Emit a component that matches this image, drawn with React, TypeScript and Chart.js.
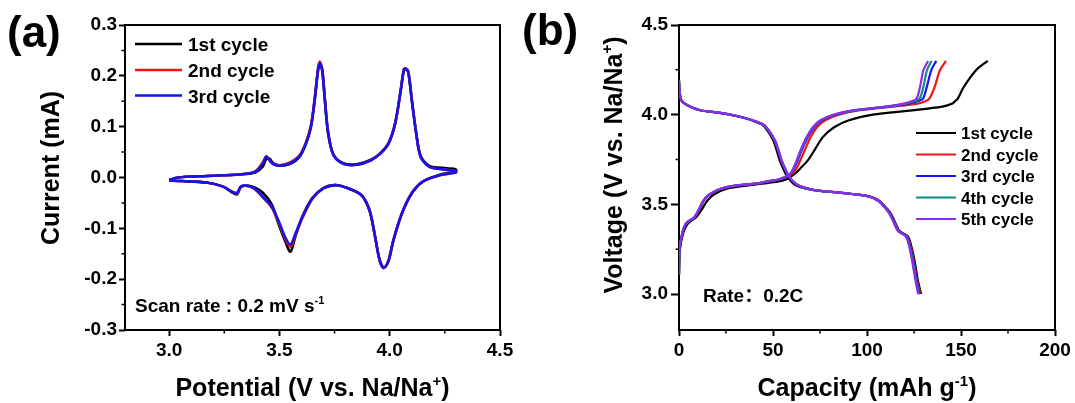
import React, { useEffect, useRef } from 'react';
import { Chart, registerables } from 'chart.js';

Chart.register(...registerables);

const FONT = "'Liberation Sans', Arial, Helvetica, sans-serif";
const CJK_FONT = "'Liberation Sans', Arial, 'Noto Sans CJK SC', sans-serif";

// ---------------- Panel (a): cyclic voltammetry ----------------
const cvLabels = ['1st cycle', '2nd cycle', '3rd cycle'];
const cvColors = ['#000000', '#f01414', '#1414ee'];

const cvAnodicV = [3.00, 3.04, 3.17, 3.32, 3.39, 3.425, 3.44, 3.455, 3.47, 3.50, 3.55, 3.59, 3.62, 3.643, 3.66, 3.675, 3.683, 3.694, 3.706, 3.721, 3.745, 3.79, 3.85, 3.915, 3.96, 3.995, 4.025, 4.05, 4.064, 4.072, 4.084, 4.10, 4.12, 4.14, 4.18, 4.26, 4.30];
const cv1AnodicI = [-0.005, 0.0, 0.003, 0.006, 0.010, 0.022, 0.036, 0.037, 0.029, 0.024, 0.027, 0.040, 0.066, 0.10, 0.152, 0.21, 0.223, 0.21, 0.152, 0.087, 0.045, 0.028, 0.026, 0.035, 0.049, 0.068, 0.107, 0.171, 0.21, 0.213, 0.207, 0.153, 0.088, 0.043, 0.023, 0.018, 0.016];
const cv2AnodicI = [-0.005, 0.0, 0.003, 0.006, 0.012, 0.030, 0.042, 0.034, 0.027, 0.024, 0.030, 0.043, 0.069, 0.103, 0.156, 0.215, 0.228, 0.214, 0.155, 0.088, 0.045, 0.027, 0.025, 0.034, 0.048, 0.067, 0.107, 0.172, 0.213, 0.215, 0.209, 0.154, 0.087, 0.041, 0.021, 0.015, 0.013];
const cv3AnodicI = [-0.005, 0.0, 0.003, 0.006, 0.011, 0.028, 0.041, 0.034, 0.027, 0.023, 0.028, 0.041, 0.067, 0.10, 0.153, 0.212, 0.225, 0.212, 0.153, 0.087, 0.044, 0.027, 0.025, 0.034, 0.048, 0.067, 0.107, 0.172, 0.212, 0.214, 0.208, 0.153, 0.087, 0.041, 0.021, 0.015, 0.013];

const cvCathodicV = [4.30, 4.23, 4.15, 4.10, 4.056, 4.017, 3.994, 3.973, 3.954, 3.931, 3.908, 3.87, 3.79, 3.75, 3.70, 3.65, 3.605, 3.573, 3.55, 3.526, 3.495, 3.465, 3.425, 3.385, 3.35, 3.325, 3.308, 3.285, 3.245, 3.17, 3.06, 3.00];
const cv1CathodicI = [0.012, 0.006, -0.008, -0.031, -0.07, -0.123, -0.164, -0.178, -0.162, -0.11, -0.064, -0.034, -0.018, -0.015, -0.021, -0.040, -0.076, -0.115, -0.146, -0.125, -0.09, -0.053, -0.030, -0.019, -0.016, -0.019, -0.033, -0.029, -0.018, -0.010, -0.007, -0.006];
const cv2CathodicI = [0.010, 0.005, -0.008, -0.031, -0.07, -0.123, -0.165, -0.178, -0.162, -0.11, -0.064, -0.034, -0.018, -0.015, -0.021, -0.042, -0.079, -0.113, -0.136, -0.12, -0.087, -0.059, -0.039, -0.022, -0.016, -0.018, -0.031, -0.028, -0.018, -0.010, -0.007, -0.006];
const cv3CathodicI = [0.010, 0.005, -0.008, -0.031, -0.07, -0.123, -0.165, -0.178, -0.162, -0.11, -0.064, -0.034, -0.018, -0.015, -0.021, -0.041, -0.077, -0.11, -0.132, -0.117, -0.084, -0.057, -0.038, -0.021, -0.016, -0.018, -0.030, -0.028, -0.018, -0.010, -0.007, -0.006];

const cvXTicks = [3.0, 3.5, 4.0, 4.5];
const cvXMinorTicks = [3.25, 3.75, 4.25];
const cvYTicks = [-0.3, -0.2, -0.1, 0.0, 0.1, 0.2, 0.3];
const cvYMinorTicks = [-0.25, -0.15, -0.05, 0.05, 0.15, 0.25];

// ---------------- Panel (b): charge / discharge ----------------
const gcdLabels = ['1st cycle', '2nd cycle', '3rd cycle', '4th cycle', '5th cycle'];
const gcdColors = ['#000000', '#f01414', '#1414ee', '#108a84', '#8a2cf0'];

const chargeV = [3.11, 3.25, 3.35, 3.39, 3.41, 3.427, 3.47, 3.52, 3.555, 3.586, 3.605, 3.614, 3.628, 3.642, 3.67, 3.70, 3.745, 3.81, 3.875, 3.93, 3.968, 4.0, 4.024, 4.045, 4.062, 4.075, 4.09, 4.155, 4.248, 4.30];
const charge1Cap = [0, 0.5, 2.5, 4.5, 6.5, 9.0, 12.0, 15.0, 18.5, 25.0, 36.0, 43.0, 53.0, 57.5, 61.5, 64.5, 68.5, 72.5, 76.5, 82.5, 90.0, 103.0, 124.0, 140.0, 145.5, 146.8, 148.3, 151.5, 158.0, 164.2];
const charge2Cap = [0, 0.3, 2.0, 3.6, 5.7, 8.3, 10.8, 13.2, 16.4, 22.2, 30.5, 40.0, 47.5, 54.3, 60.2, 62.5, 64.5, 67.2, 70.0, 73.4, 77.5, 85.0, 95.5, 113.5, 127.0, 131.0, 133.2, 136.0, 138.8, 142.0];
const charge3Cap = [0, 0.3, 2.0, 3.5, 5.5, 8.0, 10.5, 12.9, 16.0, 21.8, 30.0, 39.5, 47.0, 53.8, 59.3, 61.2, 63.1, 65.6, 68.5, 71.9, 75.8, 83.0, 93.5, 111.5, 122.0, 127.0, 129.8, 131.8, 134.2, 136.8];
const charge4Cap = [0, 0.3, 2.0, 3.5, 5.5, 8.0, 10.5, 12.9, 16.0, 21.8, 30.0, 39.5, 47.0, 53.7, 59.0, 60.9, 62.8, 65.2, 68.1, 71.4, 75.3, 82.4, 92.9, 110.5, 120.5, 125.2, 128.0, 130.0, 131.9, 134.3];
const charge5Cap = [0, 0.3, 2.0, 3.5, 5.5, 8.0, 10.5, 12.9, 16.0, 21.8, 30.0, 39.5, 47.0, 53.7, 59.0, 60.8, 62.6, 65.0, 67.9, 71.2, 75.0, 82.0, 92.7, 110.0, 119.5, 123.8, 126.4, 128.2, 130.0, 132.5];

const dischargeV = [4.19, 4.13, 4.08, 4.05, 4.025, 4.01, 3.99, 3.975, 3.96, 3.941, 3.90, 3.856, 3.80, 3.745, 3.70, 3.652, 3.615, 3.595, 3.58, 3.567, 3.558, 3.549, 3.535, 3.515, 3.49, 3.45, 3.39, 3.355, 3.341, 3.326, 3.30, 3.25, 3.186, 3.075, 3.0];
const discharge1Cap = [0, 0.3, 1.3, 5.0, 11.2, 21.6, 31.5, 37.0, 40.8, 44.8, 47.8, 50.2, 52.0, 53.6, 55.4, 57.8, 61.0, 65.0, 71.5, 83.5, 92.0, 99.0, 103.8, 107.0, 109.4, 112.6, 115.4, 117.0, 118.8, 121.3, 122.7, 124.0, 125.3, 127.1, 128.8];
const discharge2Cap = [0, 0.3, 1.3, 5.0, 11.3, 21.8, 31.7, 37.2, 41.2, 45.2, 48.3, 50.8, 52.7, 54.3, 56.2, 58.7, 62.2, 66.2, 72.2, 84.2, 92.4, 99.4, 103.9, 107.0, 109.3, 112.4, 115.2, 116.8, 118.5, 121.0, 122.3, 123.6, 124.9, 126.7, 128.4];
const discharge3Cap = [0, 0.3, 1.3, 5.0, 11.3, 21.8, 31.8, 37.3, 41.3, 45.3, 48.4, 50.9, 52.8, 54.4, 56.2, 58.6, 62.0, 66.0, 72.0, 84.0, 92.2, 99.2, 103.7, 106.8, 109.1, 112.2, 115.0, 116.6, 118.2, 120.8, 122.1, 123.3, 124.6, 126.4, 128.0];
const discharge4Cap = [0, 0.3, 1.3, 5.0, 11.4, 22.0, 32.0, 37.5, 41.5, 45.5, 48.6, 51.1, 53.0, 54.6, 56.4, 58.8, 62.2, 66.1, 72.0, 83.9, 92.0, 99.0, 103.5, 106.6, 108.9, 112.0, 114.8, 116.4, 118.0, 120.5, 121.8, 123.0, 124.3, 126.1, 127.6];
const discharge5Cap = [0, 0.3, 1.3, 5.0, 11.4, 22.0, 32.0, 37.5, 41.5, 45.5, 48.6, 51.1, 53.0, 54.6, 56.4, 58.8, 62.2, 66.1, 72.0, 83.9, 92.0, 99.0, 103.5, 106.5, 108.8, 111.8, 114.6, 116.2, 117.8, 120.3, 121.6, 122.8, 124.0, 125.8, 127.2];

const gcdXTicks = [0, 50, 100, 150, 200];
const gcdXMinorTicks = [25, 75, 125, 175];
const gcdYTicks = [3.0, 3.5, 4.0, 4.5];
const gcdYMinorTicks = [3.25, 3.75, 4.25];

// ---------------- helpers ----------------
type Seg = { t: string; sup?: boolean };

function drawRich(
  ctx: CanvasRenderingContext2D,
  segs: Seg[],
  x: number,
  y: number,
  size: number,
  align: 'left' | 'center',
  rotate = false,
  family = FONT
) {
  ctx.save();
  ctx.translate(x, y);
  if (rotate) ctx.rotate(-Math.PI / 2);
  const supSize = Math.round(size * 0.6);
  const fontFor = (s: Seg) => `bold ${s.sup ? supSize : size}px ${family}`;
  let total = 0;
  const widths = segs.map((s) => {
    ctx.font = fontFor(s);
    const w = ctx.measureText(s.t).width;
    total += w;
    return w;
  });
  let cx = align === 'center' ? -total / 2 : 0;
  ctx.fillStyle = '#000';
  ctx.textAlign = 'left';
  ctx.textBaseline = 'alphabetic';
  segs.forEach((s, i) => {
    ctx.font = fontFor(s);
    ctx.fillText(s.t, cx, s.sup ? -size * 0.4 : 0);
    cx += widths[i];
  });
  ctx.restore();
}

function pts(xs: number[], ys: number[]) {
  return xs.map((x, i) => ({ x, y: ys[i] }));
}

function framePlugin(xMinor: number[], yMinor: number[]) {
  return {
    id: 'frameMinor',
    beforeDatasetsDraw(chart: any) {
      const { ctx, chartArea: a, scales } = chart;
      ctx.save();
      ctx.strokeStyle = '#000';
      ctx.lineWidth = 2;
      ctx.strokeRect(a.left, a.top, a.right - a.left, a.bottom - a.top);
      ctx.lineWidth = 1.5;
      ctx.beginPath();
      xMinor.forEach((v) => {
        const p = scales.x.getPixelForValue(v);
        ctx.moveTo(p, a.bottom);
        ctx.lineTo(p, a.bottom + 3.5);
      });
      yMinor.forEach((v) => {
        const p = scales.y.getPixelForValue(v);
        ctx.moveTo(a.left, p);
        ctx.lineTo(a.left - 3.5, p);
      });
      ctx.stroke();
      ctx.restore();
    },
  };
}

function axis(
  min: number,
  max: number,
  ticks: number[],
  fmt: (v: number) => string,
  isX: boolean,
  fitSize: number,
  tickLen: number,
  pad: number
) {
  return {
    type: 'linear',
    min,
    max,
    afterBuildTicks: (s: any) => {
      s.ticks = ticks.map((v) => ({ value: v }));
    },
    afterFit: (s: any) => {
      if (isX) s.height = fitSize;
      else s.width = fitSize;
      s.paddingLeft = 0;
      s.paddingRight = 0;
      s.paddingTop = 0;
      s.paddingBottom = 0;
    },
    grid: {
      display: true,
      drawOnChartArea: false,
      drawTicks: true,
      tickLength: tickLen,
      tickWidth: 2,
      tickColor: '#000',
    },
    border: { display: false },
    ticks: {
      autoSkip: false,
      maxRotation: 0,
      minRotation: 0,
      padding: pad,
      color: '#000',
      font: { family: FONT, size: 19, weight: 'bold' },
      callback: (v: any) => fmt(Number(v)),
    },
  };
}

const fmt1 = (v: number) => (Math.abs(v) < 1e-9 ? '0.0' : v.toFixed(1));
const fmt0 = (v: number) => String(Math.round(v));

// ---------------- component ----------------
export default function App() {
  const refA = useRef<HTMLCanvasElement | null>(null);
  const refB = useRef<HTMLCanvasElement | null>(null);

  useEffect(() => {
    const cvAn = [cv1AnodicI, cv2AnodicI, cv3AnodicI];
    const cvCa = [cv1CathodicI, cv2CathodicI, cv3CathodicI];
    // later cycles drawn on top (lower order = drawn later)
    const dsA = cvLabels.map((label, i) => ({
      label,
      order: cvLabels.length - i,
      data: [...pts(cvAnodicV, cvAn[i]), ...pts(cvCathodicV, cvCa[i])],
      showLine: true,
      borderColor: cvColors[i],
      backgroundColor: cvColors[i],
      borderWidth: 2.6,
      pointRadius: 0,
      tension: 0.3,
      fill: false,
    }));

    const textA = {
      id: 'textA',
      afterDraw(chart: any) {
        const ctx: CanvasRenderingContext2D = chart.ctx;
        const a = chart.chartArea;
        ctx.save();
        ctx.fillStyle = '#000';
        ctx.font = `bold 44px ${FONT}`;
        ctx.textAlign = 'left';
        ctx.textBaseline = 'alphabetic';
        ctx.fillText('(a)', 7, 47);
        ctx.restore();
        drawRich(ctx, [{ t: 'Current (mA)' }], 59, 168, 25, 'center', true);
        drawRich(ctx, [{ t: 'Potential (V vs. Na/Na' }, { t: '+', sup: true }, { t: ')' }], (a.left + a.right) / 2, 396, 25, 'center');
        const ly = [44, 70, 95.5];
        cvLabels.forEach((lab, i) => {
          ctx.save();
          ctx.strokeStyle = cvColors[i];
          ctx.lineWidth = 2.6;
          ctx.beginPath();
          ctx.moveTo(135, ly[i]);
          ctx.lineTo(182, ly[i]);
          ctx.stroke();
          ctx.restore();
          drawRich(ctx, [{ t: lab }], 188, ly[i] + 7, 19, 'left');
        });
        drawRich(ctx, [{ t: 'Scan rate : 0.2 mV s' }, { t: '-1', sup: true }], 135, 312, 19, 'left');
      },
    };

    const chartA = new Chart(refA.current as HTMLCanvasElement, {
      type: 'scatter',
      data: { datasets: dsA as any },
      options: {
        responsive: false,
        animation: false,
        devicePixelRatio: 1,
        events: [],
        layout: { padding: { top: 25, right: 15, left: 0, bottom: 0 } },
        plugins: { legend: { display: false }, tooltip: { enabled: false } },
        scales: {
          x: axis(2.8, 4.5, cvXTicks, fmt1, true, 73, 6, 3) as any,
          y: axis(-0.3, 0.3, cvYTicks, fmt1, false, 125, 6, 2) as any,
        },
      },
      plugins: [framePlugin(cvXMinorTicks, cvYMinorTicks), textA],
    });

    const chCaps = [charge1Cap, charge2Cap, charge3Cap, charge4Cap, charge5Cap];
    const dcCaps = [discharge1Cap, discharge2Cap, discharge3Cap, discharge4Cap, discharge5Cap];
    const dsB: any[] = [];
    gcdLabels.forEach((label, i) => {
      const base = {
        showLine: true,
        order: gcdLabels.length - i,
        borderColor: gcdColors[i],
        backgroundColor: gcdColors[i],
        borderWidth: 2.2,
        pointRadius: 0,
        tension: 0.3,
        fill: false,
      };
      dsB.push({ ...base, label: label + ' charge', data: pts(chCaps[i], chargeV) });
      dsB.push({ ...base, label: label + ' discharge', data: pts(dcCaps[i], dischargeV) });
    });

    const textB = {
      id: 'textB',
      afterDraw(chart: any) {
        const ctx: CanvasRenderingContext2D = chart.ctx;
        const a = chart.chartArea;
        ctx.save();
        ctx.fillStyle = '#000';
        ctx.font = `bold 44px ${FONT}`;
        ctx.textAlign = 'left';
        ctx.textBaseline = 'alphabetic';
        ctx.fillText('(b)', 7, 45);
        ctx.restore();
        drawRich(ctx, [{ t: 'Voltage (V vs. Na/Na' }, { t: '+', sup: true }, { t: ')' }], 107, 165, 25, 'center', true);
        drawRich(ctx, [{ t: 'Capacity (mAh g' }, { t: '-1', sup: true }, { t: ')' }], (a.left + a.right) / 2, 396, 25, 'center');
        const ly = [133, 154.5, 176, 197.5, 219];
        gcdLabels.forEach((lab, i) => {
          ctx.save();
          ctx.strokeStyle = gcdColors[i];
          ctx.lineWidth = 2.2;
          ctx.beginPath();
          ctx.moveTo(401, ly[i]);
          ctx.lineTo(441, ly[i]);
          ctx.stroke();
          ctx.restore();
          drawRich(ctx, [{ t: lab }], 446, ly[i] + 6, 17, 'left');
        });
        drawRich(ctx, [{ t: 'Rate：0.2C' }], 188, 302, 19, 'left', false, CJK_FONT);
      },
    };

    const chartB = new Chart(refB.current as HTMLCanvasElement, {
      type: 'scatter',
      data: { datasets: dsB },
      options: {
        responsive: false,
        animation: false,
        devicePixelRatio: 1,
        events: [],
        layout: { padding: { top: 25, right: 20, left: 0, bottom: 0 } },
        plugins: { legend: { display: false }, tooltip: { enabled: false } },
        scales: {
          x: axis(0, 200, gcdXTicks, fmt0, true, 73, 6, 3) as any,
          y: axis(2.8, 4.5, gcdYTicks, fmt1, false, 164, 8, 3) as any,
        },
      },
      plugins: [framePlugin(gcdXMinorTicks, gcdYMinorTicks), textB],
    });

    return () => {
      chartA.destroy();
      chartB.destroy();
    };
  }, []);

  return (
    <div style={{ position: 'absolute', left: 0, top: 0, width: 1075, height: 403, background: '#fff', overflow: 'hidden' }}>
      <canvas ref={refA} width={515} height={403} style={{ position: 'absolute', left: 0, top: 0, width: 515, height: 403 }} />
      <canvas ref={refB} width={560} height={403} style={{ position: 'absolute', left: 515, top: 0, width: 560, height: 403 }} />
    </div>
  );
}
